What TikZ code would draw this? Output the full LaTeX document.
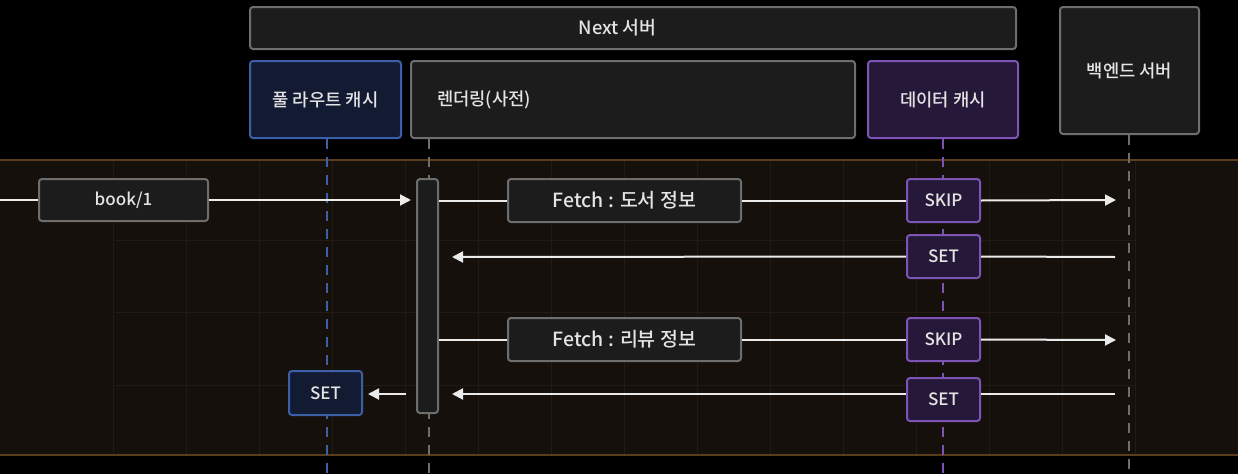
\documentclass[tikz,border=0pt]{standalone}
\usepackage{fontspec}
\setmainfont{Noto Sans CJK KR}[UprightFont=* Medium, BoldFont=* Bold]
\usetikzlibrary{arrows.meta}
\definecolor{bandfill}{HTML}{15100B}
\definecolor{bandline}{HTML}{5A3D1C}
\definecolor{gridc}{HTML}{221A13}
\definecolor{boxfill}{HTML}{1C1C1C}
\definecolor{boxline}{HTML}{6E6E6E}
\definecolor{bluefill}{HTML}{131B33}
\definecolor{blueline}{HTML}{3D5FA8}
\definecolor{purpfill}{HTML}{261838}
\definecolor{purpline}{HTML}{7D53B5}
\definecolor{txt}{HTML}{E4E4E4}
\tikzset{
  x=1pt, y=-1pt,
  box/.style={draw=boxline, fill=boxfill, line width=2pt, rounded corners=3pt,
    inner sep=0pt, text=txt, font=\fontsize{17.7}{20}\selectfont},
  bluebox/.style={box, draw=blueline, fill=bluefill},
  purpbox/.style={box, draw=purpline, fill=purpfill},
  lblbox/.style={box, font=\fontsize{19.5}{22}\selectfont},
  small/.style={font=\fontsize{17}{20}\selectfont},
  life/.style={line width=1.5pt, dash pattern=on 10pt off 8pt},
  msg/.style={draw=white!92!black, line width=2pt},
  tip/.style={msg, -{Triangle[length=11pt,width=11pt]}},
}
\begin{document}
\begin{tikzpicture}
\fill[black] (0,0) rectangle (1238,474);
\useasboundingbox (0,0) rectangle (1238,474);
% band
\fill[bandfill] (0,160) rectangle (1238,455);
\foreach \gx in {113,186,259,332,405,478,551,624,697,770,843,916,989,1062,1135}
  \draw[gridc, line width=1pt] (\gx,161) -- (\gx,454);
\foreach \gy in {240,312,385}
  \draw[gridc, line width=1pt] (113,\gy) -- (1135,\gy);
\draw[bandline, line width=1.5pt] (0,160) -- (1238,160);
\draw[bandline, line width=1.5pt] (0,455) -- (1238,455);

% header boxes
\node[box, minimum width=766pt, minimum height=42pt] (next) at (633,28) {};
\node[text=txt, inner sep=0pt, font=\fontsize{18.3}{20}\selectfont] (nextlbl) at (617.5,28) {Next 서버};
\node[bluebox, minimum width=151pt, minimum height=77pt] (frc) at (325.5,99.5) {풀 라우트 캐시};
\node[box, minimum height=77pt, text width=392pt, inner xsep=26pt, align=left] (render) at (633,99.5) {렌더링(사전)};
\node[purpbox, minimum width=150pt, minimum height=77pt] (dcache) at (943,99.5) {데이터 캐시};
\node[box, minimum width=139pt, minimum height=127pt] (backend) at (1129.5,70.5) {백엔드 서버};

% lifelines
\coordinate (frcB) at (327,474);
\coordinate (renB) at (429,474);
\coordinate (dcB) at (943,474);
\coordinate (beB) at (1129,474);
\draw[life, draw=blueline] (frc.south -| frcB) -- (frcB);
\draw[life, draw=boxline] (render.south -| renB) -- (renB);
\draw[life, draw=purpline] (dcache.south) -- (dcB);
\draw[life, draw=boxline] (backend.south -| beB) -- (beB);

% activation bar
\node[box, minimum width=21pt, minimum height=234pt] (act) at (427.5,296) {};

% message 1
\coordinate (m1s) at (0,200);
\node[box, small, minimum width=169pt, minimum height=42pt] (book) at (123.5,200) {book/1};
\draw[msg] (m1s) -- (book.west);
\draw[tip, shorten >=5pt] (book.east) -- (act.west |- book);

% message 2
\node[lblbox, minimum width=233pt, minimum height=43pt] (f1) at (624.5,200.5) {Fetch : 도서 정보};
\node[purpbox, small, minimum width=73pt, minimum height=43pt] (skip1) at (943.5,200.5) {SKIP};
\coordinate (m2e) at (1116,200);
\draw[msg] (act.east |- f1) -- (f1.west);
\draw[msg] (f1.east) -- (skip1.west);
\draw[tip] (skip1.east) -- (m2e);

% message 3
\node[purpbox, small, minimum width=73pt, minimum height=43pt] (set1) at (943.5,256.5) {SET};
\coordinate (m3s) at (1115,257);
\coordinate (m3e) at (452,257);
\draw[msg] (m3s) -- (set1.east);
\draw[tip] (set1.west) -- (m3e);

% message 4
\node[lblbox, minimum width=233pt, minimum height=43pt] (f2) at (624.5,339.5) {Fetch : 리뷰 정보};
\node[purpbox, small, minimum width=73pt, minimum height=43pt] (skip2) at (943.5,339.5) {SKIP};
\coordinate (m4e) at (1116,340);
\draw[msg] (act.east |- f2) -- (f2.west);
\draw[msg] (f2.east) -- (skip2.west);
\draw[tip] (skip2.east) -- (m4e);

% message 5
\node[purpbox, small, minimum width=73pt, minimum height=43pt] (set2) at (943.5,399.5) {SET};
\coordinate (m5s) at (1115,394);
\coordinate (m5e) at (452,394);
\draw[msg] (m5s) -- (m5s -| set2.east);
\draw[tip] (m5s -| set2.west) -- (m5e);

% message 6
\node[bluebox, small, minimum width=73pt, minimum height=44pt] (set3) at (325.5,393) {SET};
\coordinate (m6s) at (406,394);
\draw[tip, shorten >=5pt] (m6s) -- (m6s -| set3.east);
\end{tikzpicture}
\end{document}
